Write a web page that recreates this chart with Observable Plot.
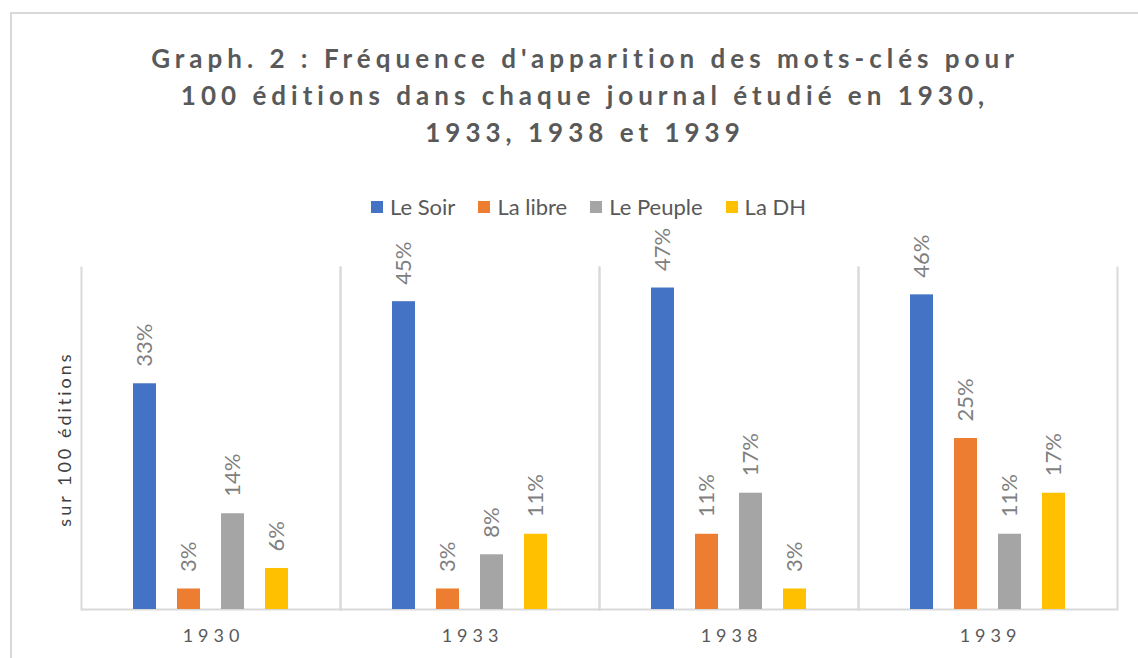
<!DOCTYPE html>
<html><head><meta charset="utf-8">
<script src="https://cdn.jsdelivr.net/npm/d3@7"></script>
<script src="https://cdn.jsdelivr.net/npm/@observablehq/plot@0.6"></script>
<style>
body{margin:0;background:#fff;}
#wrap{position:relative;width:1138px;height:658px;overflow:hidden;font-family:Lato,sans-serif;}
#border{position:absolute;left:10px;top:12px;width:1200px;height:700px;border-left:2px solid #d9d9d9;border-top:2px solid #d9d9d9;}
#chart{position:absolute;left:0;top:0;}
#title{position:absolute;left:5px;top:40px;width:1160px;text-align:center;font-weight:bold;font-size:26px;line-height:37px;letter-spacing:5px;color:#595959;}
#legend{position:absolute;left:371px;top:193px;display:flex;align-items:center;font-size:22px;color:#595959;white-space:nowrap;}
#legend .sq{display:inline-block;width:12px;height:12px;margin-right:7px;}
#legend .it{display:flex;align-items:center;margin-right:23px;}
#ylab{position:absolute;left:64px;top:439px;transform:translate(-50%,-50%) rotate(-90deg);font-size:18px;letter-spacing:3px;color:#404040;white-space:nowrap;}
svg [aria-label="fx-axis tick label"]{fill:#595959;letter-spacing:5px;}
</style>
</head><body>
<div id="wrap">
<div id="border"></div>
<div id="chart"></div>
<div id="title"></div>
<div id="legend"></div>
<div id="ylab">sur 100 éditions</div>
</div>
<script>
const titleLines = ["Graph. 2 : Fréquence d'apparition des mots-clés pour", "100 éditions dans chaque journal étudié en 1930,", "1933, 1938 et 1939"];
const years = ["1930","1933","1938","1939"];
const series = ["Le Soir","La libre","Le Peuple","La DH"];
const leSoir = [33,45,47,46];
const laLibre = [3,3,11,25];
const lePeuple = [14,8,17,11];
const laDH = [6,11,3,17];
const colors = ["#4472C4","#ED7D31","#A5A5A5","#FFC000"];

const data = years.flatMap((y,i)=>[leSoir[i],laLibre[i],lePeuple[i],laDH[i]].map((v,j)=>({year:y, series:series[j], value:v})));

document.getElementById("title").innerHTML = titleLines.join("<br>");
const leg = document.getElementById("legend");
series.forEach((s,i)=>{
  const it=document.createElement("div"); it.className="it";
  const sq=document.createElement("span"); sq.className="sq"; sq.style.background=colors[i];
  const t=document.createElement("span"); t.textContent=s;
  it.appendChild(sq); it.appendChild(t); leg.appendChild(it);
});

const chart = Plot.plot({
  width:1138, height:658,
  marginTop:267, marginBottom:49, marginLeft:80, marginRight:21,
  fx:{domain:years, padding:0, label:null},
  x:{domain:series, paddingInner:0.477, paddingOuter:1.18, axis:null},
  y:{domain:[0,50], axis:null},
  color:{domain:series, range:colors},
  style:{background:"transparent", overflow:"visible", fontFamily:"Lato"},
  marks:[
    Plot.frame({anchor:"left", stroke:"#d9d9d9", strokeWidth:2}),
    Plot.frame({anchor:"right", stroke:"#d9d9d9", strokeWidth:2}),
    Plot.ruleY([0], {stroke:"#d9d9d9", strokeWidth:2}),
    Plot.barY(data, {fx:"year", x:"series", y:"value", fill:"series"}),
    Plot.text(data, {fx:"year", x:"series", y:"value", text:d=>d.value+"%", rotate:-90, textAnchor:"start", dy:-17, fill:"#7f7f7f", fontSize:22}),
    Plot.axisFx({anchor:"bottom", tickSize:0, tickPadding:20, fontSize:18, label:null, dx:2.5})
  ]
});
document.getElementById("chart").appendChild(chart);
</script>
</body></html>
